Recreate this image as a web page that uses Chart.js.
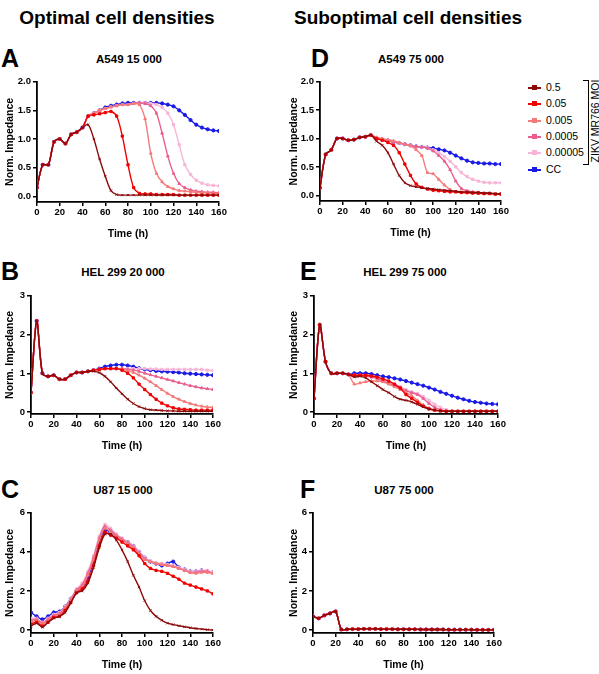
<!DOCTYPE html>
<html><head><meta charset="utf-8">
<script src="https://cdn.jsdelivr.net/npm/chart.js@4"></script>
<style>
body{margin:0;background:#fff;width:599px;height:674px;position:relative;overflow:hidden;font-family:"Liberation Sans",Arial,sans-serif;}
.t{position:absolute;font-weight:bold;color:#000;white-space:nowrap;transform:translateX(-50%);}
.L{position:absolute;font-weight:bold;font-size:25px;color:#000;}
.box{position:absolute;}
.lg{position:absolute;left:528px;font-size:10.5px;color:#000;}
.lg span.ln{position:absolute;left:0;top:6px;width:13px;height:1.5px;}
.lg span.tx{position:absolute;left:18px;top:0;}
</style></head><body>
<div class="t" style="left:117px;top:7px;font-size:19px">Optimal cell densities</div>
<div class="t" style="left:408px;top:7px;font-size:19px">Suboptimal cell densities</div>
<div class="L" style="left:1px;top:44px">A</div>
<div class="L" style="left:311px;top:44px">D</div>
<div class="L" style="left:1px;top:257px">B</div>
<div class="L" style="left:300px;top:257px">E</div>
<div class="L" style="left:1px;top:475px">C</div>
<div class="L" style="left:300px;top:475px">F</div>
<div class="t" style="left:129px;top:53px;font-size:11.5px">A549 15 000</div>
<div class="t" style="left:411px;top:53px;font-size:11.5px">A549 75 000</div>
<div class="t" style="left:123px;top:266px;font-size:11.5px">HEL 299 20 000</div>
<div class="t" style="left:405px;top:266px;font-size:11.5px">HEL 299 75 000</div>
<div class="t" style="left:123px;top:484px;font-size:11.5px">U87 15 000</div>
<div class="t" style="left:404px;top:484px;font-size:11.5px">U87 75 000</div>
<div id="legend"></div>
<div style="position:absolute;left:583px;top:80px;width:5px;height:83px;border:1px solid #000;border-left:none;"></div>
<div style="position:absolute;left:595px;top:121px;transform:translate(-50%,-50%) rotate(-90deg);font-size:10.5px;white-space:nowrap;">ZIKV MR766 MOI</div>
<div class="box" id="bA"><canvas id="cA"></canvas></div>
<div class="box" id="bD"><canvas id="cD"></canvas></div>
<div class="box" id="bB"><canvas id="cB"></canvas></div>
<div class="box" id="bE"><canvas id="cE"></canvas></div>
<div class="box" id="bC"><canvas id="cC"></canvas></div>
<div class="box" id="bF"><canvas id="cF"></canvas></div>
<script>
const TIME = [0,5,10,15,20,25,30,35,40,45,50,55,60,65,70,75,80,85,90,95,100,105,110,115,120,125,130,135,140,145,150,155,160];
const SERIES = ["0.5","0.05","0.005","0.0005","0.00005","CC"];
const COLORS = ["#8b0a0a","#f00000","#f57a7a","#ea5f8f","#f7b6d8","#1a1ae6"];
const MARKERS = ["crossRot","rect","triangle","triangle","rect","circle"];

// Panel A (A549 15 000)
const A_PRE = [0.15,0.55,0.55,0.95,1.0,0.92,1.08,1.12,1.2];
const A_05 = [1.25,1.0,0.65,0.35,0.1,0.03,0.02,0.02,0.02,0.02,0.02,0.02,0.02,0.02,0.02,0.02,0.02,0.02,0.02,0.02,0.02,0.02,0.02,0.02];
const A_005 = [1.4,1.42,1.44,1.46,1.48,1.4,1.05,0.55,0.15,0.05,0.04,0.04,0.03,0.03,0.03,0.03,0.02,0.02,0.02,0.02,0.02,0.02,0.02,0.02];
const A_0005 = [1.4,1.45,1.5,1.53,1.56,1.58,1.6,1.6,1.62,1.6,1.35,0.75,0.4,0.25,0.17,0.13,0.1,0.09,0.08,0.07,0.06,0.06,0.05,0.05];
const A_00005 = [1.4,1.45,1.5,1.53,1.56,1.58,1.6,1.6,1.62,1.63,1.62,1.58,1.45,1.1,0.7,0.4,0.22,0.15,0.11,0.09,0.08,0.07,0.07,0.06];
const A_000005 = [1.4,1.45,1.5,1.53,1.56,1.58,1.6,1.6,1.62,1.63,1.63,1.62,1.6,1.55,1.45,1.25,0.9,0.55,0.38,0.28,0.23,0.2,0.19,0.18];
const A_CC = [1.4,1.45,1.5,1.55,1.58,1.6,1.62,1.63,1.63,1.63,1.63,1.63,1.63,1.62,1.6,1.57,1.5,1.42,1.33,1.25,1.2,1.17,1.15,1.14];

// Panel D (A549 75 000)
const D_PRE = [0.13,0.72,0.8,1.0,1.0,0.97,0.98,1.02,1.03,1.06];
const D_05 = [0.95,0.88,0.75,0.55,0.35,0.22,0.17,0.15,0.13,0.12,0.11,0.1,0.09,0.08,0.07,0.06,0.06,0.05,0.05,0.04,0.04,0.03,0.03];
const D_005 = [1.0,0.97,0.93,0.88,0.75,0.55,0.35,0.2,0.14,0.11,0.09,0.08,0.07,0.06,0.06,0.05,0.05,0.04,0.04,0.03,0.03,0.02,0.02];
const D_0005 = [1.02,1.0,0.98,0.96,0.93,0.9,0.87,0.8,0.7,0.4,0.38,0.28,0.18,0.1,0.06,0.05,0.04,0.04,0.03,0.03,0.03,0.02,0.02];
const D_00005 = [1.0,0.98,0.96,0.94,0.92,0.9,0.88,0.86,0.85,0.83,0.78,0.7,0.6,0.45,0.25,0.12,0.08,0.06,0.05,0.04,0.04,0.03,0.03];
const D_000005 = [1.0,0.98,0.96,0.94,0.92,0.9,0.88,0.86,0.85,0.84,0.8,0.75,0.68,0.6,0.5,0.4,0.33,0.28,0.25,0.23,0.22,0.22,0.22];
const D_CC = [1.0,0.98,0.96,0.94,0.92,0.9,0.88,0.86,0.85,0.84,0.83,0.81,0.79,0.75,0.7,0.65,0.61,0.58,0.57,0.56,0.56,0.55,0.55];

// Panel B (HEL 299 20 000)
const B_PRE = [0.5,2.35,1.0,0.92,0.95,0.85,0.85,0.95,1.02,1.02];
const B_05 = [1.05,1.05,1.02,0.92,0.78,0.62,0.47,0.33,0.22,0.14,0.09,0.06,0.05,0.04,0.03,0.03,0.02,0.02,0.02,0.02,0.02,0.02,0.02];
const B_005 = [1.05,1.08,1.1,1.12,1.12,1.12,1.08,1.0,0.88,0.72,0.58,0.45,0.33,0.23,0.16,0.11,0.08,0.07,0.06,0.05,0.05,0.05,0.05];
const B_0005 = [1.05,1.08,1.1,1.12,1.12,1.12,1.1,1.07,1.02,0.95,0.87,0.78,0.68,0.58,0.48,0.4,0.33,0.27,0.22,0.18,0.15,0.13,0.12];
const B_00005 = [1.05,1.08,1.1,1.12,1.12,1.12,1.12,1.1,1.08,1.05,1.0,0.96,0.92,0.88,0.84,0.8,0.76,0.72,0.68,0.65,0.62,0.6,0.58];
const B_000005 = [1.05,1.08,1.1,1.12,1.12,1.12,1.12,1.12,1.12,1.12,1.12,1.11,1.11,1.1,1.1,1.1,1.1,1.1,1.1,1.1,1.1,1.08,1.07];
const B_CC = [1.05,1.08,1.12,1.17,1.2,1.22,1.22,1.2,1.17,1.13,1.1,1.08,1.06,1.05,1.04,1.03,1.02,1.0,0.99,0.98,0.97,0.96,0.95];

// Panel E (HEL 299 75 000)
const E_PRE = [0.35,2.25,1.3,1.0,1.0,1.0,0.97];
const E_05 = [0.9,0.92,0.88,0.78,0.68,0.58,0.5,0.4,0.33,0.3,0.26,0.2,0.13,0.08,0.05,0.03,0.02,0.02,0.02,0.02,0.02,0.02,0.02,0.02,0.02,0.02];
const E_005 = [0.95,0.95,0.95,0.93,0.9,0.85,0.8,0.72,0.62,0.45,0.35,0.25,0.15,0.08,0.05,0.03,0.02,0.02,0.02,0.02,0.02,0.02,0.02,0.02,0.02,0.02];
const E_0005 = [0.72,0.75,0.78,0.8,0.8,0.78,0.72,0.65,0.58,0.5,0.42,0.3,0.18,0.1,0.05,0.03,0.02,0.02,0.02,0.02,0.02,0.02,0.02,0.02,0.02,0.02];
const E_00005 = [0.95,0.95,0.93,0.9,0.86,0.8,0.74,0.68,0.62,0.55,0.5,0.45,0.35,0.22,0.12,0.06,0.03,0.02,0.02,0.02,0.02,0.02,0.02,0.02,0.02,0.02];
const E_000005 = [0.95,0.95,0.93,0.9,0.87,0.83,0.78,0.72,0.66,0.58,0.52,0.48,0.4,0.3,0.2,0.12,0.06,0.03,0.02,0.02,0.02,0.02,0.02,0.02,0.02,0.02];
const E_CC = [1.0,1.0,1.0,0.98,0.95,0.92,0.9,0.87,0.84,0.8,0.76,0.72,0.68,0.63,0.58,0.52,0.47,0.42,0.37,0.33,0.29,0.26,0.24,0.22,0.21,0.2];

// Panel C (U87 15 000)
const C_05 = [0.2,0.35,0.15,0.4,0.6,0.7,0.9,1.4,1.9,2.0,2.4,3.2,4.2,4.9,4.9,4.6,4.1,3.5,2.8,2.2,1.5,1.0,0.7,0.5,0.35,0.28,0.22,0.17,0.12,0.08,0.05,0.02,0.0];
const C_005 = [0.3,0.4,0.2,0.4,0.65,0.7,1.0,1.4,1.9,2.1,2.5,3.3,4.3,5.0,4.85,4.7,4.5,4.3,4.1,3.8,3.4,3.15,3.05,3.0,2.9,2.75,2.6,2.4,2.3,2.2,2.1,2.0,1.85];
const C_0005 = [0.4,0.5,0.3,0.5,0.7,0.8,1.1,1.5,2.0,2.2,2.8,3.6,4.6,5.2,5.0,4.8,4.6,4.4,4.2,3.9,3.6,3.5,3.4,3.35,3.3,3.25,3.15,3.05,2.95,2.9,2.95,2.95,2.9];
const C_00005 = [0.5,0.55,0.35,0.55,0.75,0.85,1.15,1.55,2.05,2.3,2.9,3.7,4.7,5.3,5.1,4.85,4.65,4.45,4.25,3.95,3.65,3.5,3.4,3.35,3.3,3.25,3.15,3.05,2.95,2.95,3.0,3.0,2.9];
const C_000005 = [0.6,0.6,0.4,0.6,0.8,0.9,1.2,1.6,2.1,2.4,3.0,3.8,4.8,5.4,5.2,4.9,4.7,4.5,4.3,4.0,3.7,3.55,3.45,3.4,3.35,3.3,3.2,3.1,3.0,3.0,3.05,3.05,2.95];
const C_CC = [0.9,0.7,0.55,0.7,0.9,0.95,1.2,1.6,2.0,2.2,2.7,3.5,4.5,5.1,5.0,4.8,4.6,4.5,4.3,4.0,3.7,3.5,3.4,3.3,3.4,3.5,3.2,3.1,3.0,3.0,3.05,3.0,2.95];

// Panel F (U87 75 000)
const F_PRE = [0.7,0.6,0.75,0.85,0.95];
const F_LOW = [0.03,0.04,0.05,0.05,0.06,0.06,0.06,0.05,0.05,0.05,0.04,0.04,0.04,0.04,0.03,0.03,0.03,0.03,0.03,0.02,0.02,0.02,0.02,0.02,0.01,0.01,0.01,0.01];

const PANELS = [
 {id:"A", left:4, pL:37, pR:219, pT:80, pB:202, min:-0.1, max:2, ticks:[0,0.5,1,1.5,2], dec:1,
  data:[A_PRE.concat(A_05),A_PRE.concat(A_005),A_PRE.concat(A_0005),A_PRE.concat(A_00005),A_PRE.concat(A_000005),A_PRE.concat(A_CC)]},
 {id:"D", left:288, pL:320, pR:501, pT:80, pB:201, min:-0.1, max:2, ticks:[0,0.5,1,1.5,2], dec:1,
  data:[D_PRE.concat(D_05),D_PRE.concat(D_005),D_PRE.concat(D_0005),D_PRE.concat(D_00005),D_PRE.concat(D_000005),D_PRE.concat(D_CC)]},
 {id:"B", left:4, pL:31, pR:213, pT:294, pB:414, min:-0.05, max:3, ticks:[0,1,2,3], dec:0,
  data:[B_PRE.concat(B_05),B_PRE.concat(B_005),B_PRE.concat(B_0005),B_PRE.concat(B_00005),B_PRE.concat(B_000005),B_PRE.concat(B_CC)]},
 {id:"E", left:288, pL:314, pR:498, pT:294, pB:414, min:-0.05, max:3, ticks:[0,1,2,3], dec:0,
  data:[E_PRE.concat(E_05),E_PRE.concat(E_005),E_PRE.concat(E_0005),E_PRE.concat(E_00005),E_PRE.concat(E_000005),E_PRE.concat(E_CC)]},
 {id:"C", left:4, pL:31, pR:213, pT:511, pB:633, min:-0.15, max:6, ticks:[0,2,4,6], dec:0,
  data:[C_05,C_005,C_0005,C_00005,C_000005,C_CC]},
 {id:"F", left:288, pL:313, pR:494, pT:511, pB:633, min:-0.15, max:6, ticks:[0,2,4,6], dec:0,
  data:[F_PRE.concat(F_LOW),F_PRE.concat(F_LOW),F_PRE.concat(F_LOW),F_PRE.concat(F_LOW),F_PRE.concat(F_LOW),F_PRE.concat(F_LOW)]}
];

const FONT = "'Liberation Sans', Arial, sans-serif";
const PADT = 6, PADR = 10, XH = 38;

PANELS.forEach(p => {
  const W = p.pL - p.left;
  const box = document.getElementById("b"+p.id);
  const width = p.pR - p.left + PADR, height = p.pB - p.pT + PADT + XH;
  Object.assign(box.style,{left:p.left+"px",top:(p.pT-PADT)+"px",width:width+"px",height:height+"px"});
  const datasets = SERIES.map((name,i)=>({
    label:name,
    data:TIME.map((t,j)=>({x:t,y:p.data[i][j]})),
    borderColor:COLORS[i], backgroundColor:COLORS[i],
    borderWidth:1.4, pointRadius:1.6, pointStyle:MARKERS[i], pointBorderWidth:1,
    tension:0.3, order: i===5 ? 10 : i+1
  }));
  new Chart(document.getElementById("c"+p.id),{
    type:"line",
    data:{datasets},
    options:{
      responsive:true, maintainAspectRatio:false, animation:false,
      layout:{padding:{top:PADT,right:PADR,left:0,bottom:0}},
      plugins:{legend:{display:false},tooltip:{enabled:false}},
      scales:{
        x:{type:"linear",min:0,max:160,
           afterBuildTicks:a=>{a.ticks=[0,20,40,60,80,100,120,140,160].map(v=>({value:v}));},
           afterFit:a=>{a.height=XH;},
           grid:{display:true,drawOnChartArea:false,drawTicks:true,tickLength:4,color:"#000",lineWidth:1.5},
           border:{color:"#000",width:1.8},
           ticks:{color:"#000",font:{family:FONT,size:9.5,weight:"bold"},padding:1,maxRotation:0,autoSkip:false},
           title:{display:true,text:"Time (h)",color:"#000",font:{family:FONT,size:10.5,weight:"bold"},padding:{top:2,bottom:0}}},
        y:{min:p.min,max:p.max,
           afterBuildTicks:a=>{a.ticks=p.ticks.map(v=>({value:v}));},
           afterFit:a=>{a.width=W;},
           grid:{display:true,drawOnChartArea:false,drawTicks:true,tickLength:4,color:"#000",lineWidth:1.5},
           border:{color:"#000",width:1.8},
           ticks:{color:"#000",font:{family:FONT,size:9.5,weight:"bold"},padding:2,callback:v=>Number(v).toFixed(p.dec)},
           title:{display:true,text:"Norm. Impedance",color:"#000",font:{family:FONT,size:10.5,weight:"bold"},padding:0}}
      }
    }
  });
});

// legend
const lg = document.getElementById("legend");
const lys = [81,97,114,130,146,163];
SERIES.forEach((s,i)=>{
  const d = document.createElement("div");
  d.className="lg"; d.style.top=lys[i]+"px"; d.style.width="54px"; d.style.height="14px";
  d.innerHTML = '<span class="ln" style="background:'+COLORS[i]+'"></span>'+
    '<span style="position:absolute;left:4px;top:4px;width:5px;height:5px;background:'+COLORS[i]+'"></span>'+
    '<span class="tx">'+s+'</span>';
  lg.appendChild(d);
});
</script>
</body></html>
